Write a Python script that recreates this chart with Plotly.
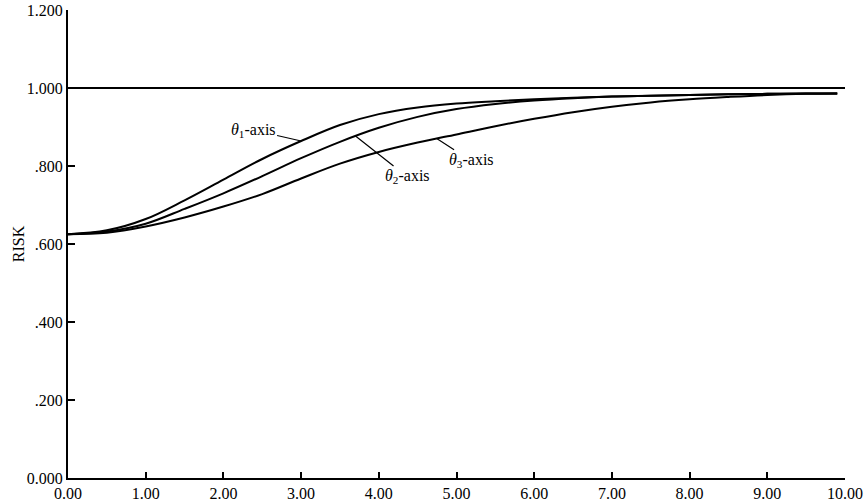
import plotly.graph_objects as go

x_vals = [0.0, 0.5, 1.0, 1.5, 2.0, 2.5, 3.0, 3.5, 4.0, 4.5, 5.0, 5.5, 6.0, 6.5, 7.0, 7.5, 8.0, 8.5, 9.0, 9.5, 9.9]
theta1 = [0.625, 0.635, 0.664, 0.712, 0.765, 0.818, 0.864, 0.905, 0.933, 0.950, 0.960, 0.966, 0.971, 0.975, 0.978, 0.980, 0.982, 0.984, 0.985, 0.986, 0.986]
theta2 = [0.625, 0.632, 0.652, 0.690, 0.730, 0.774, 0.820, 0.862, 0.898, 0.926, 0.946, 0.959, 0.968, 0.974, 0.978, 0.980, 0.982, 0.984, 0.985, 0.986, 0.986]
theta3 = [0.625, 0.629, 0.645, 0.668, 0.696, 0.728, 0.768, 0.806, 0.836, 0.860, 0.881, 0.902, 0.921, 0.938, 0.952, 0.963, 0.971, 0.977, 0.982, 0.985, 0.986]
ref_x = [0.0, 10.0]
ref_y = [1.0, 1.0]

x_ticks = [0, 1, 2, 3, 4, 5, 6, 7, 8, 9, 10]
x_tick_text = ["0.00", "1.00", "2.00", "3.00", "4.00", "5.00", "6.00", "7.00", "8.00", "9.00", "10.00"]
y_ticks = [0, 0.2, 0.4, 0.6, 0.8, 1.0, 1.2]
y_tick_text = ["0.000", ".200", ".400", ".600", ".800", "1.000", "1.200"]

FONT = "Liberation Serif"
fig = go.Figure()
fig.add_trace(go.Scatter(x=ref_x, y=ref_y, mode="lines", line=dict(color="black", width=2), showlegend=False))
for ys in (theta1, theta2, theta3):
    fig.add_trace(go.Scatter(x=x_vals, y=ys, mode="lines", line=dict(color="black", width=2, shape="spline"), showlegend=False))

labels = [
    ("<i>θ</i><sub>1</sub>-axis", 3.0, theta1[6], -48, -11),
    ("<i>θ</i><sub>2</sub>-axis", 3.7, 0.877, 52, 41),
    ("<i>θ</i><sub>3</sub>-axis", 4.75, 0.870, 34, 22),
]
for txt, xx, yy, ax, ay in labels:
    fig.add_annotation(x=xx, y=yy, text=txt, showarrow=True, arrowhead=0, arrowwidth=1.2,
                       arrowcolor="black", ax=ax, ay=ay, font=dict(family=FONT, size=16, color="black"))

fig.add_annotation(xref="paper", yref="paper", x=-0.064, y=0.5, xanchor="center", yanchor="middle",
                   text="RISK", textangle=-90,
                   showarrow=False, font=dict(family=FONT, size=16, color="black"))

fig.update_layout(
    width=865, height=501,
    margin=dict(l=68, r=20, t=10, b=23, autoexpand=False),
    plot_bgcolor="white", paper_bgcolor="white",
    font=dict(family=FONT, size=16, color="black"),
    xaxis=dict(range=[0, 10], tickvals=x_ticks, ticktext=x_tick_text, ticks="inside", ticklen=6,
               tickcolor="black", tickwidth=1.5, showgrid=False, zeroline=False, automargin=False,
               showline=True, linecolor="black", linewidth=2),
    yaxis=dict(range=[0, 1.2], tickvals=y_ticks, ticktext=y_tick_text, ticks="inside", ticklen=7,
               tickcolor="black", tickwidth=1.5, showgrid=False, zeroline=False, automargin=False,
               showline=True, linecolor="black", linewidth=2),
)
fig.write_html("out.html", config={"displayModeBar": False},
               post_script="document.body.style.margin='0';document.body.style.overflow='hidden';")
